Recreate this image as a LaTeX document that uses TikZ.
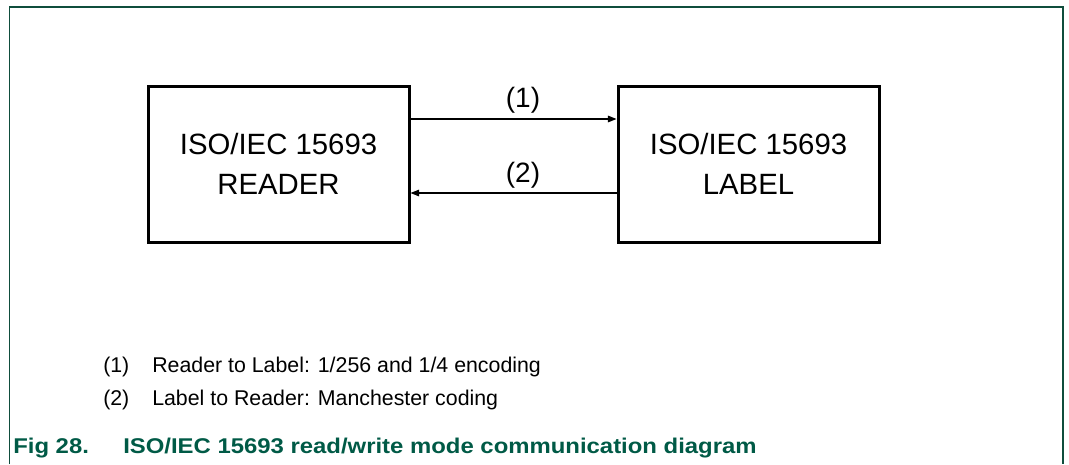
\documentclass[tikz,border=0pt]{standalone}
\usepackage{fontspec}
\setmainfont{Liberation Sans}
\usetikzlibrary{arrows.meta}
\definecolor{framegreen}{HTML}{0F4D3C}
\definecolor{capgreen}{HTML}{005A46}
\tikzset{
  boxnode/.style={draw=black, line width=2.25pt, minimum width=261*0.75pt, minimum height=156*0.75pt,
    align=center, inner sep=0pt, font=\fontsize{22}{29.5}\selectfont},
  arr/.style={draw=black, line width=0.8pt, -{Triangle[length=6.5pt,width=5pt]}},
  arrlabel/.style={inner sep=0pt, font=\fontsize{21}{25}\selectfont},
  legend/.style={inner sep=0pt, anchor=base west, font=\fontsize{16}{19}\selectfont},
  caption/.style={inner sep=0pt, anchor=base west, text=capgreen, font=\fontsize{16}{19}\selectfont\bfseries}
}
\begin{document}
\begin{tikzpicture}[x=0.75pt, y=-0.75pt]
\useasboundingbox (0,0) rectangle (1069,464);
\fill[white] (0,0) rectangle (1069,464);
% frame
\draw[framegreen, line width=0.9pt] (9.5,464) -- (9.5,7) -- (1063,7) -- (1063,464);
% boxes
\node[boxnode] (reader) at (278.5,164) {ISO/IEC 15693\\READER};
\node[boxnode] (label) at (748.5,164) {ISO/IEC 15693\\LABEL};
% arrows
\coordinate (y1) at (0,119);
\coordinate (y2) at (0,193);
\draw[arr] (reader.east |- y1) -- (label.west |- y1);
\draw[arr] (label.west |- y2) -- (reader.east |- y2);
\node[arrlabel] (l1) at (523,100) {(1)};
\node[arrlabel] (l2) at (523,175) {(2)};
% legend
\node[legend] (n1) at (103,372) {(1)};
\node[legend] (t1) at (152,372) {Reader to Label: 1/256 and 1/4 encoding};
\node[legend] (n2) at (103,405) {(2)};
\node[legend] (t2) at (152,405) {Label to Reader: Manchester coding};
% caption
\node[caption] (fig) at (13,453) {\scalebox{1.12}[1]{Fig 28.}};
\node[caption] (cap) at (123,453) {\scalebox{1.12}[1]{ISO/IEC 15693 read/write mode communication diagram}};
\end{tikzpicture}
\end{document}
